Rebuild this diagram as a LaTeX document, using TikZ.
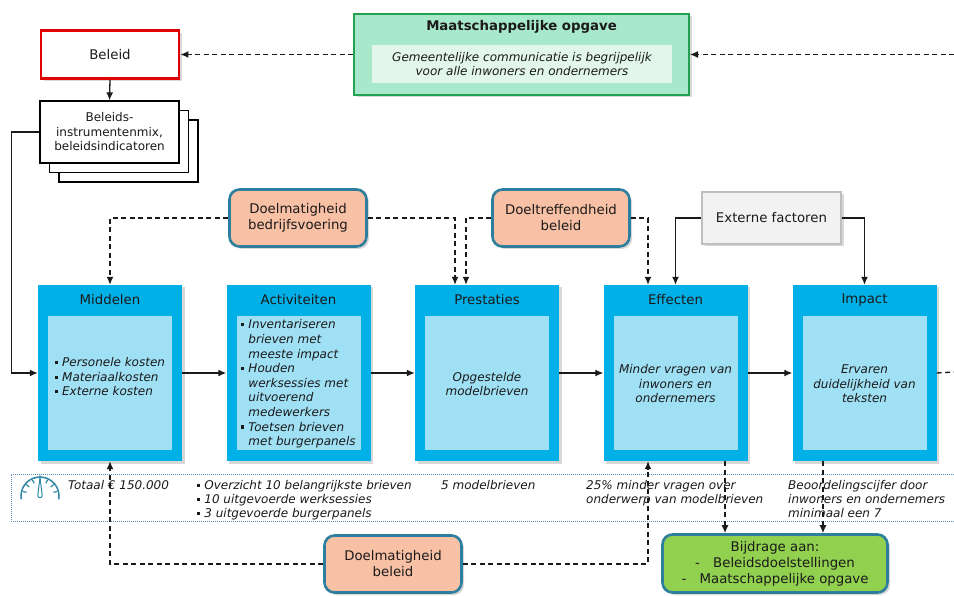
\documentclass[tikz,border=0pt]{standalone}
\usepackage{fontspec}
\setmainfont{DejaVu Sans}
\usepackage{tikz}
\usetikzlibrary{positioning}
\usetikzlibrary{shadows, arrows.meta}

\definecolor{blok}{RGB}{0,176,230}
\definecolor{blokin}{RGB}{160,224,245}
\definecolor{zalm}{RGB}{248,192,165}
\definecolor{randblauw}{RGB}{46,126,158}
\definecolor{maatgroen}{RGB}{169,233,203}
\definecolor{maatrand}{RGB}{34,161,80}
\definecolor{maatin}{RGB}{226,246,236}
\definecolor{bijgroen}{RGB}{146,208,80}
\definecolor{extgrijs}{RGB}{242,242,242}
\definecolor{extrand}{RGB}{191,191,191}
\definecolor{rood}{RGB}{224,0,0}
\definecolor{stippel}{RGB}{91,141,184}
\definecolor{meter}{RGB}{47,134,166}
\definecolor{lijn}{RGB}{26,26,26}

\newcommand{\blt}{\rule[2.5pt]{3.2pt}{3.2pt}\hspace{4pt}}

\begin{document}
\begin{tikzpicture}[x=1pt,y=-1pt,
  every node/.style={font=\fontsize{13.3}{16}\selectfont,text=lijn},
  schaduw/.style={drop shadow={shadow xshift=2.5pt,shadow yshift=-2.5pt,opacity=0.3}},
  fase/.style={fill=blok,minimum width=144pt,minimum height=176pt,inner sep=0pt,schaduw},
  fasevak/.style={fill=blokin,minimum width=124pt,minimum height=134pt,inner sep=0pt},
  toets/.style={draw=randblauw,line width=2.6pt,fill=zalm,rounded corners=10pt,minimum width=137pt,minimum height=57pt,align=center,schaduw},
  cursief/.style={font=\fontsize{12}{14.5}\selectfont\itshape},
  pijl/.style={-{Latex[length=8pt,width=7pt]},line width=1.3pt,draw=lijn},
  streep/.style={dash pattern=on 5pt off 3.5pt,line width=1.3pt,draw=lijn}]
\path[use as bounding box,fill=white] (0,0) rectangle (954,596);

% beleid en maatschappelijke opgave
\node[draw=rood,line width=2.8pt,fill=white,minimum width=138pt,minimum height=48pt,schaduw] (beleid) at (110,54.5) {Beleid};
\node[draw=black,line width=1.3pt,fill=white,minimum width=139pt,minimum height=62pt,align=center,
  double copy shadow={shadow xshift=9.5pt,shadow yshift=-9.5pt,fill=white,draw=black,line width=1.3pt},
  font=\fontsize{12}{14.5}\selectfont] (mix) at (109.5,132) {Beleids-\\instrumentenmix,\\beleidsindicatoren};
\node[draw=maatrand,line width=2pt,fill=maatgroen,minimum width=335pt,minimum height=81pt,schaduw] (maat) at (521.5,54.5) {};
\node[font=\fontsize{13.3}{16}\selectfont\bfseries] (maattitel) at (521.5,27) {Maatschappelijke opgave};
\node[fill=maatin,minimum width=300pt,minimum height=38pt,align=center,cursief] (maattekst) at (522,64) {Gemeentelijke communicatie is begrijpelijk\\voor alle inwoners en ondernemers};

% toetsing en externe factoren
\node[toets] (doelbedr) at (298,218) {Doelmatigheid\\bedrijfsvoering};
\node[toets] (doeltref) at (561,218) {Doeltreffendheid\\beleid};
\node[draw=extrand,line width=2pt,fill=extgrijs,minimum width=139pt,minimum height=52pt,schaduw] (extern) at (771.5,218) {Externe factoren};
\node[toets] (doelbel) at (393,564) {Doelmatigheid\\beleid};
\node[toets,fill=bijgroen,minimum width=225pt,minimum height=58pt] (bijdrage) at (775,563.5) {Bijdrage aan:\\-\quad Beleidsdoelstellingen\\-\quad Maatschappelijke opgave};

% fasen
\node[fase] (mid) at (110,373) {};
\node[fase] (act) at (298.5,373) {};
\node[fase] (pres) at (487,373) {};
\node[fase] (eff) at (675.5,373) {};
\node[fase] (imp) at (864.5,373) {};
\node[fasevak] (midvak) at (110,383) {};
\node[fasevak] (actvak) at (298.5,383) {};
\node[fasevak] (presvak) at (487,383) {};
\node[fasevak] (effvak) at (675.5,383) {};
\node[fasevak] (impvak) at (864.5,383) {};
\node (midtitel) at (110,300) {Middelen};
\node (acttitel) at (298.5,300) {Activiteiten};
\node (prestitel) at (487,300) {Prestaties};
\node (efftitel) at (675.5,300) {Effecten};
\node (imptitel) at (864.5,300) {Impact};
\node[cursief,align=left] (midtekst) at (110,377) {\blt Personele kosten\\\blt Materiaalkosten\\\blt Externe kosten};
\node[cursief,align=left,font=\fontsize{12}{14.6}\selectfont\itshape] (acttekst) at (298.5,384) {\blt Inventariseren\\\hphantom{\blt}brieven met\\\hphantom{\blt}meeste impact\\\blt Houden\\\hphantom{\blt}werksessies met\\\hphantom{\blt}uitvoerend\\\hphantom{\blt}medewerkers\\\blt Toetsen brieven\\\hphantom{\blt}met burgerpanels};
\node[cursief,align=center] (prestekst) at (487,384) {Opgestelde\\modelbrieven};
\node[cursief,align=center] (efftekst) at (675.5,384) {Minder vragen van\\inwoners en\\ondernemers};
\node[cursief,align=center] (imptekst) at (864.5,384) {Ervaren\\duidelijkheid van\\teksten};

% indicatoren
\draw[stippel,dash pattern=on 1pt off 1pt,line width=1pt] (954,474) -- (11,474) -- (11,521) -- (954,521);
\draw[meter,line width=1.5pt] (40,496) ++(170:19) arc[start angle=170,end angle=370,radius=19];
\foreach \h in {195,220,245,295,320,345}
  \draw[meter,line width=1.2pt] (40,496) ++(\h:18) -- ++(\h:-4);
\draw[meter,line width=1pt] (40,477) -- (37.8,495.5) arc[start angle=180,end angle=0,radius=2.2] -- cycle;
\node[cursief,anchor=north west,inner sep=0pt] (totaal) at (68,480) {Totaal € 150.000};
\node[cursief,anchor=north west,inner sep=0pt,align=left,font=\fontsize{12}{14}\selectfont\itshape] (overzicht) at (197,480) {\blt Overzicht 10 belangrijkste brieven\\\blt 10 uitgevoerde werksessies\\\blt 3 uitgevoerde burgerpanels};
\node[cursief,anchor=north west,inner sep=0pt] (vijf) at (441,480) {5 modelbrieven};
\node[cursief,anchor=north west,inner sep=0pt,align=left,font=\fontsize{12}{14}\selectfont\itshape] (minder) at (586,480) {25\% minder vragen over\\onderwerp van modelbrieven};
\node[cursief,anchor=north west,inner sep=0pt,align=left,font=\fontsize{12}{14}\selectfont\itshape] (cijfer) at (788,480) {Beoordelingscijfer door\\inwoners en ondernemers\\minimaal een 7};

% verbindingen
\coordinate (rechtsboven) at (954,54.5);
\coordinate (rechtsmidden) at (954,372);
\draw[pijl,streep] (maat.west) -- (beleid.east);
\draw[pijl,streep] (rechtsboven) -- (maat.east);
\draw[pijl] (beleid.south) -- (mix.north);
\draw[pijl] (mix.west) -- ++(-28,0) |- (mid.west);
\draw[pijl] (mid.east) -- (act.west);
\draw[pijl] (act.east) -- (pres.west);
\draw[pijl] (pres.east) -- (eff.west);
\draw[pijl] (eff.east) -- (imp.west);
\draw[streep] (imp.east) -- (rechtsmidden);
\draw[pijl,streep] (doelbedr.west) -| (mid.north);
\draw[pijl,streep] (doelbedr.east) -| ([xshift=-32pt]pres.north);
\draw[pijl,streep] (doeltref.west) -| ([xshift=-21pt]pres.north);
\draw[pijl,streep] (doeltref.east) -| ([xshift=-27.5pt]eff.north);
\draw[pijl] (extern.west) -| (eff.north);
\draw[pijl] (extern.east) -| (imp.north);
\draw[pijl,streep] (doelbel.west) -| (mid.south);
\draw[pijl,streep] (doelbel.east) -| ([xshift=-27.5pt]eff.south);
\draw[pijl,streep] ([xshift=49.5pt]eff.south) -- ([xshift=49.5pt]eff.south |- bijdrage.north);
\draw[pijl,streep] ([xshift=-41.5pt]imp.south) -- ([xshift=-41.5pt]imp.south |- bijdrage.north);

\end{tikzpicture}
\end{document}
